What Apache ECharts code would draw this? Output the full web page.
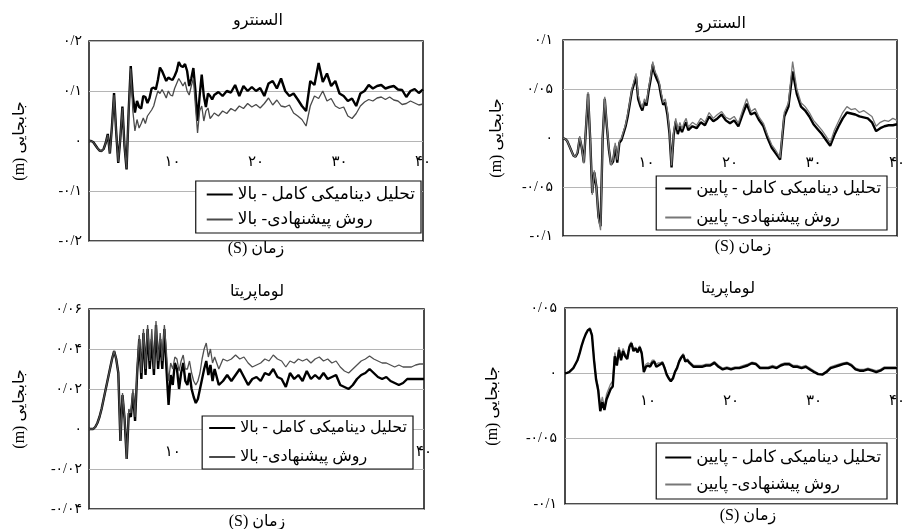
<!DOCTYPE html>
<html><head><meta charset="utf-8">
<script src="https://cdn.jsdelivr.net/npm/echarts@6/dist/echarts.min.js"></script>
<style>html,body{margin:0;padding:0;background:#fff}#c{width:903px;height:529px}</style>
</head><body><div id="c"></div>
<script>
// ---- time samples (s) ----
const time = [0,0.25,0.5,0.75,1,1.25,1.5,1.75,2,2.25,
2.5,2.75,3,3.25,3.5,3.75,4,4.25,4.5,4.75,
5,5.25,5.5,5.75,6,6.25,6.5,6.75,7,7.25,
7.5,7.75,8,8.25,8.5,8.75,9,9.25,9.5,9.75,
10,10.25,10.5,10.75,11,11.25,11.5,11.75,12,12.25,
12.5,12.75,13,13.25,13.5,13.75,14,14.25,14.5,14.75,
15,
15.5,16,16.5,17,17.5,18,18.5,19,19.5,20,
20.5,21,21.5,22,22.5,23,23.5,24,24.5,25,
25.5,26,26.5,27,27.5,28,28.5,29,29.5,30,
30.5,31,31.5,32,32.5,33,33.5,34,34.5,35,
35.5,36,36.5,37,37.5,38,38.5,39,39.5,40];

// ---- Panel 1: El Centro, top (m) ----
const elcFullTop = [0,0,-0.002,-0.008,-0.014,-0.019,-0.02,-0.016,-0.004,0.014,
-0.025,0.03,0.096,0.02,-0.044,0.005,0.069,-0.01,-0.057,0.06,
0.15,0.09,0.057,0.08,0.068,0.065,0.09,0.088,0.076,0.086,
0.105,0.107,0.103,0.122,0.147,0.14,0.13,0.12,0.127,0.124,
0.122,0.13,0.14,0.158,0.15,0.148,0.154,0.14,0.11,0.125,
0.146,0.1,0.04,0.09,0.133,0.09,0.068,0.095,0.09,0.083,
0.092,
0.098,0.09,0.1,0.097,0.112,0.09,0.11,0.1,0.108,0.1,
0.106,0.09,0.115,0.12,0.105,0.125,0.1,0.09,0.095,0.083,
0.07,0.06,0.12,0.112,0.156,0.118,0.135,0.11,0.12,0.095,
0.09,0.08,0.085,0.07,0.095,0.1,0.112,0.105,0.11,0.112,
0.105,0.108,0.11,0.103,0.102,0.088,0.1,0.104,0.096,0.103];
const elcPropTop = [0,0,-0.002,-0.008,-0.014,-0.019,-0.02,-0.016,-0.004,0.012,
-0.024,0.028,0.092,0.02,-0.042,0.005,0.066,-0.01,-0.055,0.055,
0.145,0.06,0.02,0.043,0.026,0.035,0.046,0.035,0.05,0.056,
0.062,0.07,0.086,0.1,0.095,0.103,0.095,0.086,0.1,0.092,
0.09,0.105,0.115,0.125,0.118,0.11,0.118,0.1,0.092,0.11,
0.125,0.07,0.016,0.06,0.07,0.04,0.06,0.066,0.045,0.05,
0.056,
0.05,0.06,0.055,0.065,0.06,0.07,0.065,0.075,0.068,0.073,
0.066,0.075,0.086,0.072,0.082,0.07,0.068,0.072,0.056,0.05,
0.043,0.03,0.07,0.09,0.085,0.1,0.08,0.085,0.07,0.065,
0.068,0.05,0.045,0.055,0.07,0.078,0.083,0.08,0.086,0.088,
0.083,0.088,0.082,0.08,0.073,0.075,0.08,0.076,0.072,0.074];

// ---- Panel 2: El Centro, bottom (m) ----
const elcFullBot = [0,-0.001,-0.003,-0.008,-0.013,-0.018,-0.019,-0.015,0,-0.01,
-0.025,0.01,0.045,0,-0.056,-0.035,-0.05,-0.08,-0.09,0,
0.04,0.012,-0.012,-0.027,-0.024,-0.008,-0.025,-0.005,-0.002,0.005,
0.012,0.022,0.035,0.048,0.055,0.063,0.04,0.033,0.028,0.037,
0.033,0.048,0.06,0.075,0.065,0.06,0.055,0.043,0.034,0.036,
0.024,0.005,-0.03,0.003,0.017,0.004,0.012,0.006,0.012,0.016,
0.008,
0.012,0.01,0.016,0.013,0.022,0.017,0.02,0.024,0.018,0.015,
0.018,0.012,0.024,0.035,0.024,0.026,0.018,0.012,0,-0.01,
-0.016,-0.022,0.022,0.032,0.068,0.045,0.032,0.028,0.022,0.014,
0.009,0.004,-0.002,-0.008,0.003,0.012,0.02,0.026,0.025,0.024,
0.022,0.021,0.02,0.016,0.007,0.01,0.012,0.013,0.013,0.014];
const elcPropBot = [0,-0.001,-0.003,-0.008,-0.013,-0.018,-0.019,-0.014,0.002,-0.01,
-0.026,0.012,0.047,0.002,-0.058,-0.033,-0.05,-0.082,-0.094,0.002,
0.042,0.014,-0.01,-0.028,-0.022,-0.005,-0.022,-0.003,0,0.007,
0.014,0.025,0.037,0.05,0.058,0.066,0.044,0.036,0.031,0.04,
0.036,0.051,0.063,0.078,0.068,0.064,0.058,0.047,0.036,0.04,
0.028,0.008,-0.028,0.006,0.02,0.008,0.016,0.009,0.016,0.02,
0.011,
0.016,0.013,0.02,0.016,0.026,0.02,0.024,0.027,0.021,0.019,
0.022,0.015,0.028,0.04,0.027,0.03,0.021,0.015,0.003,-0.007,
-0.013,-0.02,0.026,0.036,0.078,0.05,0.036,0.032,0.026,0.018,
0.013,0.008,0.002,-0.005,0.008,0.017,0.026,0.032,0.029,0.03,
0.026,0.028,0.025,0.022,0.012,0.016,0.018,0.017,0.02,0.018];

// ---- Panel 3: Loma Prieta, top (m) ----
const lomFullTop = [0,0,0,0.001,0.003,0.006,0.01,0.015,0.02,0.025,
0.03,0.035,0.039,0.035,0.028,-0.006,0.017,0.005,-0.015,0.008,
0.006,0.018,0.004,0.028,0.045,0.025,0.048,0.027,0.05,0.03,
0.045,0.027,0.052,0.03,0.045,0.03,0.05,0.03,0.012,0.027,
0.022,0.033,0.03,0.02,0.028,0.033,0.024,0.022,0.028,0.02,
0.016,0.013,0.015,0.02,0.025,0.03,0.034,0.027,0.032,0.024,
0.03,
0.022,0.024,0.027,0.024,0.027,0.03,0.026,0.022,0.025,0.026,
0.024,0.028,0.027,0.03,0.026,0.025,0.021,0.028,0.025,0.027,
0.024,0.029,0.025,0.027,0.025,0.028,0.025,0.026,0.027,0.022,
0.021,0.02,0.022,0.025,0.027,0.028,0.03,0.028,0.026,0.025,
0.026,0.024,0.023,0.022,0.023,0.025,0.025,0.025,0.025,0.025];
const lomPropTop = [0,0,0,0.001,0.003,0.006,0.01,0.015,0.02,0.025,
0.03,0.035,0.039,0.035,0.028,-0.006,0.018,0.006,-0.015,0.01,
0.008,0.02,0.006,0.03,0.047,0.028,0.05,0.03,0.052,0.034,
0.05,0.03,0.054,0.034,0.048,0.034,0.052,0.038,0.024,0.033,
0.03,0.036,0.035,0.029,0.034,0.037,0.03,0.03,0.034,0.028,
0.024,0.022,0.024,0.028,0.035,0.04,0.043,0.036,0.04,0.033,
0.036,
0.03,0.035,0.034,0.035,0.037,0.035,0.036,0.033,0.031,0.032,
0.033,0.035,0.034,0.037,0.035,0.034,0.031,0.034,0.033,0.035,
0.034,0.035,0.033,0.035,0.036,0.034,0.035,0.033,0.034,0.031,
0.029,0.028,0.03,0.032,0.034,0.035,0.0365,0.035,0.034,0.033,
0.033,0.032,0.031,0.032,0.031,0.031,0.031,0.032,0.0325,0.0325];

// ---- Panel 4: Loma Prieta, bottom (m) ----
const lomFullBot = [0,0.0003,0.001,0.0025,0.004,0.007,0.01,0.015,0.021,0.026,
0.03,0.033,0.034,0.029,0.01,-0.005,-0.013,-0.029,-0.022,-0.028,
-0.02,-0.016,-0.012,-0.01,0.013,0.006,0.018,0.01,0.017,0.013,
0.011,0.02,0.023,0.017,0.019,0.016,0.02,0.015,0.001,0.005,
0.006,0.005,0.008,0.009,0.005,0.006,0.007,0.008,0.004,-0.001,
-0.004,-0.006,-0.004,0.001,0.004,0.009,0.012,0.014,0.009,0.01,
0.008,
0.005,0.005,0.005,0.006,0.006,0.008,0.005,0.003,0.004,0.003,
0.004,0.004,0.005,0.006,0.0077,0.007,0.004,0.004,0.004,0.005,
0.004,0.006,0.007,0.007,0.005,0.005,0.004,0.005,0.003,0.001,
-0.0006,-0.001,0.001,0.004,0.005,0.006,0.007,0.0077,0.006,0.003,
0.002,0.002,0.003,0.002,0.001,0.002,0.004,0.004,0.004,0.004];
const lomPropBot = [0,0.0003,0.001,0.0025,0.004,0.007,0.01,0.015,0.021,0.026,
0.03,0.033,0.035,0.03,0.012,-0.003,-0.01,-0.025,-0.018,-0.026,
-0.016,-0.012,-0.008,-0.006,0.016,0.009,0.02,0.013,0.019,0.015,
0.013,0.022,0.024,0.019,0.02,0.018,0.021,0.017,0.003,0.007,
0.008,0.007,0.01,0.01,0.007,0.008,0.008,0.009,0.005,0,
-0.003,-0.005,-0.003,0.002,0.005,0.01,0.013,0.015,0.01,0.011,
0.009,
0.006,0.006,0.006,0.007,0.007,0.009,0.006,0.004,0.005,0.004,
0.005,0.005,0.006,0.007,0.0085,0.008,0.005,0.005,0.005,0.006,
0.005,0.007,0.008,0.008,0.006,0.006,0.005,0.006,0.004,0.002,
0,-0.0005,0.002,0.005,0.006,0.007,0.008,0.0085,0.007,0.004,
0.003,0.003,0.004,0.003,0.002,0.003,0.005,0.005,0.005,0.005];

// ---- texts and axis ticks ----
const panelTitles = ['السنترو', 'السنترو', 'لوماپریتا', 'لوماپریتا'];
const legendFull = ['تحلیل دینامیکی کامل - بالا', 'تحلیل دینامیکی کامل - پایین', 'تحلیل دینامیکی کامل - بالا', 'تحلیل دینامیکی کامل - پایین'];
const legendProp = ['روش پیشنهادی- بالا', 'روش پیشنهادی- پایین', 'روش پیشنهادی- بالا', 'روش پیشنهادی- پایین'];
const yAxisName = '(m) جابجایی';
const xAxisName = '(S) زمان';
const faDigits = ['۰','۱','۲','۳','۴','۵','۶','۷','۸','۹'];
const yMin = [-0.2, -0.1, -0.04, -0.1];
const yMax = [0.2, 0.1, 0.06, 0.05];
const yStep = [0.1, 0.05, 0.02, 0.05];
const xMin = 0, xMax = 40, xStep = 10;

const fullData = [elcFullTop, elcFullBot, lomFullTop, lomFullBot];
const propData = [elcPropTop, elcPropBot, lomPropTop, lomPropBot];

// ---- layout (pixels) ----
const grids = [
  {left: 89, top: 41, width: 334, height: 200},
  {left: 563, top: 40, width: 334, height: 196},
  {left: 89, top: 309, width: 335, height: 200},
  {left: 565, top: 308, width: 332, height: 196}
];
const xLabelMargin = [14, 18, 16, 20];
const yNameGap = [61, 58, 61, 64];
const yLabelMargin = [7, 10, 7, 8];
const legendPos = [
  {right: 482, top: 181, gap: 8, pad: 5, font: 17, padL: 10},
  {right: 16, top: 176, gap: 12, pad: 4, font: 16.5, padL: 8},
  {right: 490, top: 416, gap: 13, pad: 4, font: 16, padL: 6},
  {right: 16, top: 443, gap: 10, pad: 6, font: 16.5, padL: 8}
];
const titlePos = [[258, 13], [721, 16], [257, 284], [728, 281]];
const xNamePos = [[256, 241], [743, 239], [257, 514], [748, 508]];
const thinColor = ['#4a4a4a', '#777777', '#505050', '#808080'];

const FONT = "'Liberation Serif', 'DejaVu Sans', serif";

function fa(v) {
  const n = +(+v).toFixed(4);
  const s = String(Math.abs(n)).replace('.', '/').replace(/[0-9]/g, d => faDigits[+d]);
  return (n < 0 ? '-' : '') + s;
}

const option = {
  backgroundColor: '#fff',
  animation: false,
  textStyle: {fontFamily: FONT, color: '#000'},
  grid: grids.map(g => Object.assign({
    show: true, borderColor: '#111', borderWidth: 1.5, backgroundColor: '#fff',
    containLabel: false, outerBoundsMode: 'none'
  }, g)),
  title: [].concat(
    panelTitles.map((t, i) => ({
      text: t, left: titlePos[i][0], top: titlePos[i][1], textAlign: 'center', padding: 0,
      textStyle: {fontFamily: FONT, fontSize: 16, fontWeight: 'normal', color: '#000'}
    })),
    xNamePos.map(p => ({
      text: xAxisName, left: p[0], top: p[1], textAlign: 'center', padding: 0,
      textStyle: {fontFamily: FONT, fontSize: 16, fontWeight: 'normal', color: '#000'}
    }))
  ),
  xAxis: grids.map((g, i) => ({
    type: 'value', gridIndex: i, min: xMin, max: xMax, interval: xStep,
    position: 'bottom',
    // labels sit just under the zero line, as in the original
    offset: -g.height * (0 - yMin[i]) / (yMax[i] - yMin[i]),
    axisLine: {show: false, onZero: false},
    axisTick: {show: false},
    splitLine: {show: false},
    axisLabel: {
      margin: xLabelMargin[i], fontSize: 15, color: '#000', fontFamily: FONT,
      formatter: v => (v === 0 ? '' : fa(v))
    }
  })),
  yAxis: grids.map((g, i) => ({
    type: 'value', gridIndex: i, min: yMin[i], max: yMax[i], interval: yStep[i],
    name: yAxisName, nameLocation: 'middle', nameRotate: 90, nameGap: yNameGap[i],
    nameTextStyle: {fontSize: 16, color: '#000', fontFamily: FONT},
    axisLine: {show: false},
    axisTick: {show: false},
    splitLine: {show: true, lineStyle: {color: '#b5b5b5', width: 1}},
    axisLabel: {margin: yLabelMargin[i], fontSize: 14, color: '#000', fontFamily: FONT, formatter: v => fa(v)}
  })),
  legend: legendPos.map((p, i) => ({
    orient: 'vertical', right: p.right, top: p.top, itemGap: p.gap,
    padding: [p.pad, 6, p.pad, p.padL],
    itemWidth: 26, itemHeight: 12, align: 'left',
    itemStyle: {opacity: 0},
    backgroundColor: '#fff', borderColor: '#111', borderWidth: 1.2, borderRadius: 0,
    textStyle: {fontSize: p.font, color: '#000', fontFamily: FONT},
    data: [legendFull[i], legendProp[i]],
    selectedMode: false, z: 10
  })),
  series: []
};

for (let i = 0; i < 4; i++) {
  const full = {
    type: 'line', name: legendFull[i], xAxisIndex: i, yAxisIndex: i,
    symbol: 'none', showSymbol: false, clip: true,
    lineStyle: {color: '#000', width: 2.4}, itemStyle: {color: '#000'},
    data: time.map((t, k) => [t, fullData[i][k]])
  };
  const prop = {
    type: 'line', name: legendProp[i], xAxisIndex: i, yAxisIndex: i,
    symbol: 'none', showSymbol: false, clip: true,
    lineStyle: {color: thinColor[i], width: 1.3}, itemStyle: {color: thinColor[i]},
    data: time.map((t, k) => [t, propData[i][k]])
  };
  if (i === 3) option.series.push(prop, full); else option.series.push(full, prop);
}

const chart = echarts.init(document.getElementById('c'), null, {renderer: 'canvas'});
chart.setOption(option);
</script>
</body></html>
